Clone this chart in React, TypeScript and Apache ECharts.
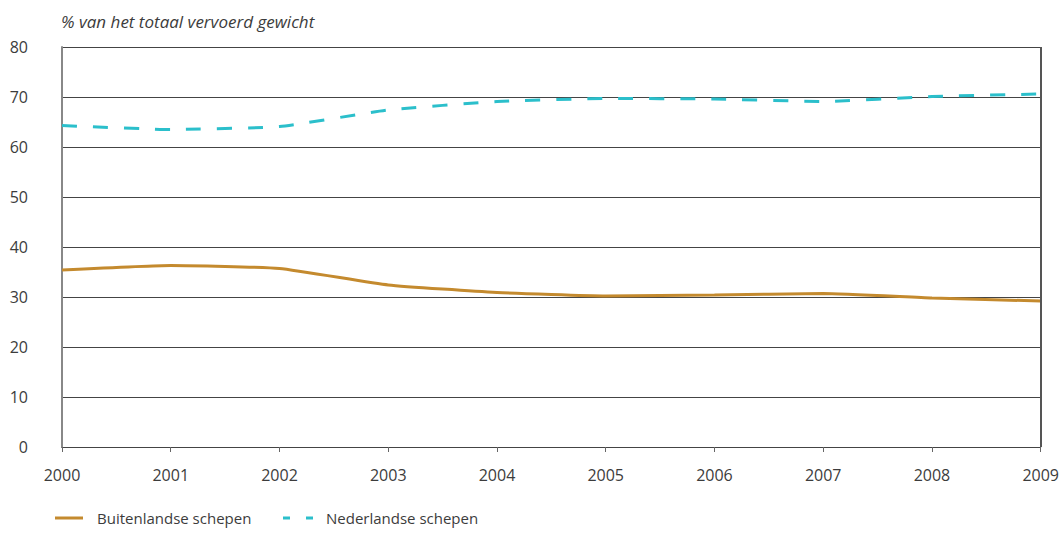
import React, { useEffect, useRef } from "react";
import * as echarts from "echarts";

const years = ["2000", "2001", "2002", "2003", "2004", "2005", "2006", "2007", "2008", "2009"];
const buitenlandse = [35.4, 36.3, 35.7, 32.4, 30.9, 30.2, 30.4, 30.7, 29.8, 29.2];
const nederlandse = [64.3, 63.5, 64.1, 67.4, 69.1, 69.7, 69.6, 69.1, 70.1, 70.6];
const yTicks = [0, 10, 20, 30, 40, 50, 60, 70, 80];
const unitLabel = "% van het totaal vervoerd gewicht";
const seriesNames = ["Buitenlandse schepen", "Nederlandse schepen"];

const GOLD = "#c48a2e";
const CYAN = "#2bbfcb";
const FONT = "'Open Sans', 'Noto Sans', sans-serif";
const TXT = "#3c3c3c";

export default function App() {
  const ref = useRef<HTMLDivElement>(null);
  useEffect(() => {
    if (!ref.current) return;
    const chart = echarts.init(ref.current, null, { renderer: "svg" });
    const legendY = 518;
    chart.setOption({
      animation: false,
      textStyle: { fontFamily: FONT },
      graphic: [
        {
          type: "text",
          left: 61,
          top: 13,
          style: { text: unitLabel, font: `italic 17px ${FONT}`, fill: TXT },
        },
        {
          type: "line",
          shape: { x1: 55, y1: legendY, x2: 83, y2: legendY },
          style: { stroke: GOLD, lineWidth: 3 },
        },
        {
          type: "text",
          x: 97,
          y: legendY,
          style: { text: seriesNames[0], font: `15px ${FONT}`, fill: TXT, textVerticalAlign: "middle" },
        },
        {
          type: "line",
          shape: { x1: 283, y1: legendY, x2: 290, y2: legendY },
          style: { stroke: CYAN, lineWidth: 3 },
        },
        {
          type: "line",
          shape: { x1: 306, y1: legendY, x2: 313, y2: legendY },
          style: { stroke: CYAN, lineWidth: 3 },
        },
        {
          type: "text",
          x: 326,
          y: legendY,
          style: { text: seriesNames[1], font: `15px ${FONT}`, fill: TXT, textVerticalAlign: "middle" },
        },
      ],
      grid: { left: 62, right: 21, top: 47, bottom: 107 },
      xAxis: {
        type: "category",
        data: years,
        boundaryGap: false,
        axisLine: { show: true, lineStyle: { color: "#444", width: 1 } },
        axisTick: { show: true, length: 5, lineStyle: { color: "#666" } },
        axisLabel: { color: TXT, fontSize: 16, margin: 20, fontFamily: FONT },
        splitLine: { show: false },
      },
      yAxis: {
        type: "value",
        min: 0,
        max: 80,
        interval: 10,
        axisLine: { show: true, lineStyle: { color: "#888", width: 2 } },
        axisTick: { show: false },
        axisLabel: {
          color: TXT,
          fontSize: 16,
          margin: 34,
          align: "right",
          fontFamily: FONT,
          formatter: (v: number) => (yTicks.includes(v) ? String(v) : ""),
        },
        splitLine: { show: true, lineStyle: { color: "#444", width: 1 } },
      },
      series: [
        {
          name: seriesNames[0],
          type: "line",
          data: buitenlandse,
          smooth: 0.15,
          showSymbol: false,
          lineStyle: { color: GOLD, width: 3 },
          itemStyle: { color: GOLD },
          z: 3,
        },
        {
          name: seriesNames[1],
          type: "line",
          data: nederlandse,
          smooth: 0.15,
          showSymbol: false,
          lineStyle: { color: CYAN, width: 3, type: [15, 16] },
          itemStyle: { color: CYAN },
          z: 3,
        },
        {
          type: "line",
          data: [],
          markLine: {
            silent: true,
            symbol: "none",
            label: { show: false },
            lineStyle: { color: "#555", width: 2, type: "solid" },
            data: [{ xAxis: "2009" }],
          },
        },
      ],
    });
    return () => chart.dispose();
  }, []);
  return <div ref={ref} style={{ width: 1062, height: 554, position: "absolute", left: 0, top: 0 }} />;
}
